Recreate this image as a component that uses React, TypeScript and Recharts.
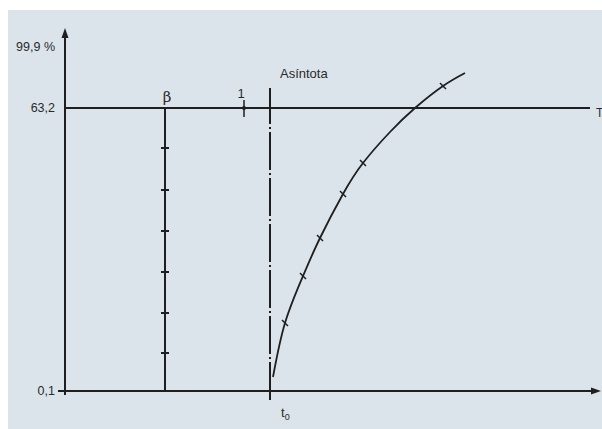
import { ComposedChart, Line, XAxis, YAxis, ReferenceLine, ReferenceDot } from 'recharts'

// axis units: t along x, Weibull-paper ordinate along y (schematic)
const yTicks = [0, 28.3, 34.4]
const yTickLabels = ['0,1', '63,2', '99,9 %']

const curveT = [20.8, 22.0, 23.8, 25.5, 27.8, 29.8, 32.5, 35.0, 37.8, 40.0]
const curveF = [1.4, 6.8, 11.5, 15.3, 19.7, 22.8, 25.9, 28.3, 30.5, 31.8]
const curveMarked = [false, true, true, true, true, true, false, false, true, false]

const betaT = 10
const betaTicks = [24.3, 20.1, 16.0, 11.9, 7.8, 3.8]
const unitT = 17.9
const t0 = 20.5
const level632 = 28.3
const xMax = 53.5
const yMax = 36.3

const INK = '#1f1f1f'
const FONT = '"Liberation Sans", Arial, sans-serif'

const curve = curveT.map((t, i) => ({ t, f: curveF[i], mark: curveMarked[i] }))

function ArrowLine(props: any) {
  const { x1, y1, x2, y2 } = props
  const ang = Math.atan2(y2 - y1, x2 - x1)
  const len = 10, half = 3.5
  const bx = x2 - len * Math.cos(ang)
  const by = y2 - len * Math.sin(ang)
  const px = -Math.sin(ang) * half
  const py = Math.cos(ang) * half
  return (
    <g>
      <line x1={x1} y1={y1} x2={bx} y2={by} stroke={INK} strokeWidth={2} />
      <polygon points={`${x2},${y2} ${bx + px},${by + py} ${bx - px},${by - py}`} fill={INK} />
    </g>
  )
}

function CurveMark(props: any) {
  const { cx, cy, payload, index } = props
  if (!payload?.mark) return <g key={`m${index}`} />
  return <line key={`m${index}`} x1={cx - 3} y1={cy - 3} x2={cx + 3} y2={cy + 3} stroke={INK} strokeWidth={1.5} />
}

const label = (text: string, dx: number, dy: number, size = 13, anchor = 'start', family = FONT) =>
  (p: any) => (
    <text x={p.cx + dx} y={p.cy + dy} fontSize={size} fontFamily={family} fill="#2a2a2a" textAnchor={anchor}>
      {text}
    </text>
  )

export default function App() {
  return (
    <div style={{ position: 'absolute', left: 0, top: 0, width: 602, height: 429, background: '#fff' }}>
      <div style={{ position: 'absolute', left: 8, top: 10, width: 594, height: 419, background: '#dce4eb' }} />
      <div style={{ position: 'absolute', left: 0, top: 0 }}>
        <ComposedChart width={602} height={429} data={curve} margin={{ top: 28, right: 2, bottom: 38, left: 5 }}>
          <XAxis dataKey="t" type="number" domain={[0, xMax]} hide />
          <YAxis
            type="number"
            domain={[0, yMax]}
            ticks={yTicks}
            width={60}
            axisLine={false}
            tickLine={false}
            tickMargin={4}
            tick={{ fill: '#2a2a2a', fontSize: 12.5, fontFamily: FONT }}
            tickFormatter={(v: number) => yTickLabels[yTicks.indexOf(v)] ?? ''}
          />

          {/* axes */}
          <ReferenceLine segment={[{ x: 0, y: -0.4 }, { x: 0, y: yMax }]} ifOverflow="visible" shape={ArrowLine} />
          <ReferenceLine segment={[{ x: -0.7, y: 0 }, { x: 53.6, y: 0 }]} ifOverflow="visible" shape={ArrowLine} />

          {/* 63,2 % level */}
          <ReferenceLine segment={[{ x: 0, y: level632 }, { x: 52.5, y: level632 }]} ifOverflow="visible" stroke={INK} strokeWidth={2} />
          <ReferenceDot x={52.5} y={level632} ifOverflow="visible" shape={label('T', 6, 9, 12)} />

          {/* beta scale */}
          <ReferenceLine segment={[{ x: betaT, y: 0 }, { x: betaT, y: level632 }]} ifOverflow="visible" stroke={INK} strokeWidth={2} />
          {betaTicks.map((v) => (
            <ReferenceLine key={v} segment={[{ x: betaT - 0.4, y: v }, { x: betaT + 0.4, y: v }]} ifOverflow="visible" stroke={INK} strokeWidth={2} />
          ))}
          <ReferenceDot x={betaT} y={level632} ifOverflow="visible" shape={label('β', 2, -6, 15, 'middle', '"DejaVu Serif", serif')} />

          {/* unit mark */}
          <ReferenceLine segment={[{ x: unitT, y: 27.4 }, { x: unitT, y: 29.1 }]} ifOverflow="visible" stroke={INK} strokeWidth={1.5} />
          <ReferenceDot x={unitT} y={level632} r={2} fill={INK} stroke="none" ifOverflow="visible" />
          <ReferenceDot x={unitT} y={level632} ifOverflow="visible" shape={label('1', -3, -10, 13, 'middle')} />

          {/* asymptote */}
          <ReferenceLine
            segment={[{ x: t0, y: -0.9 }, { x: t0, y: 30.3 }]}
            ifOverflow="visible"
            stroke={INK}
            strokeWidth={2}
            strokeDasharray="38 3 2 3"
          />
          <ReferenceDot x={t0} y={30.3} ifOverflow="visible" shape={label('Asíntota', 10, -10, 13)} />
          <ReferenceDot
            x={t0}
            y={0}
            ifOverflow="visible"
            shape={(p: any) => (
              <text x={p.cx + 11} y={p.cy + 26} fontSize={13} fontFamily={FONT} fill="#2a2a2a">
                t<tspan fontSize={9} dy={3}>0</tspan>
              </text>
            )}
          />

          <Line
            dataKey="f"
            type="natural"
            stroke={INK}
            strokeWidth={1.8}
            dot={CurveMark}
            activeDot={false}
            isAnimationActive={false}
          />
        </ComposedChart>
      </div>
    </div>
  )
}
